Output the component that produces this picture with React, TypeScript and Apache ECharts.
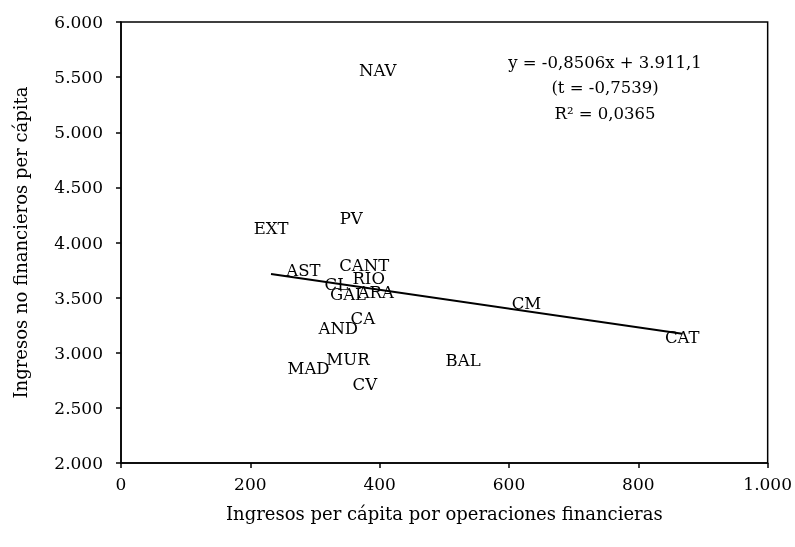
import React, { useEffect, useRef } from "react";
import * as echarts from "echarts";

const regions = ["NAV", "EXT", "PV", "CANT", "AST", "RIO", "CL", "GAL", "ARA", "CA", "AND", "MUR", "MAD", "CV", "BAL", "CM", "CAT"];
const xValues = [397, 232, 356, 376, 282, 383, 333, 351, 394, 374, 336, 351, 290, 377, 529, 627, 868];
const yValues = [5557, 4127, 4217, 3792, 3747, 3674, 3620, 3529, 3547, 3312, 3222, 2941, 2860, 2715, 2932, 3448, 3140];
const trendSlope = -0.8506;
const trendIntercept = 3911.1;
const equationLines = ["y = -0,8506x + 3.911,1", "(t = -0,7539)", "R² = 0,0365"];

const fmt = (v: number) => {
  const s = Math.round(v).toString();
  return s.replace(/\B(?=(\d{3})+(?!\d))/g, ".");
};

const FONT = "DejaVu Serif";

export default function App() {
  const ref = useRef<HTMLDivElement>(null);
  useEffect(() => {
    if (!ref.current) return;
    const chart = echarts.init(ref.current, null, { renderer: "svg" });
    const xmin = Math.min(...xValues);
    const xmax = Math.max(...xValues);
    const trend = [
      [xmin, trendSlope * xmin + trendIntercept],
      [xmax, trendSlope * xmax + trendIntercept],
    ];
    chart.setOption({
      animation: false,
      textStyle: { fontFamily: FONT },
      grid: { left: 121, right: 22, top: 22, bottom: 84, show: true, borderColor: "#000", borderWidth: 1.5 },
      xAxis: {
        type: "value",
        min: 0,
        max: 1000,
        interval: 200,
        name: "Ingresos per cápita por operaciones financieras",
        nameLocation: "middle",
        nameGap: 41,
        nameTextStyle: { fontFamily: FONT, fontSize: 18, color: "#000" },
        axisLine: { show: true, lineStyle: { color: "#000", width: 1.5 } },
        axisTick: { show: true, inside: false, length: 5, lineStyle: { color: "#000", width: 1.5 } },
        axisLabel: { fontFamily: FONT, fontSize: 17, color: "#000", margin: 12, formatter: (v: number) => fmt(v) },
        splitLine: { show: false },
      },
      yAxis: {
        type: "value",
        min: 2000,
        max: 6000,
        interval: 500,
        name: "Ingresos no financieros per cápita",
        nameLocation: "middle",
        nameGap: 92,
        nameRotate: 90,
        nameTextStyle: { fontFamily: FONT, fontSize: 18, color: "#000" },
        axisLine: { show: true, lineStyle: { color: "#000", width: 1.5 } },
        axisTick: { show: true, inside: false, length: 5, lineStyle: { color: "#000", width: 1.5 } },
        axisLabel: { fontFamily: FONT, fontSize: 17, color: "#000", margin: 18, formatter: (v: number) => fmt(v) },
        splitLine: { show: false },
      },
      series: [
        {
          type: "scatter",
          symbolSize: 2,
          itemStyle: { color: "transparent" },
          data: regions.map((r, i) => ({ name: r, value: [xValues[i], yValues[i]] })),
          label: {
            show: true,
            position: "inside",
            formatter: (p: any) => p.name,
            fontFamily: FONT,
            fontSize: 16.5,
            color: "#000",
            textBorderWidth: 0,
            opacity: 1,
          },
          labelLayout: { hideOverlap: false },
          emphasis: { disabled: true },
          z: 3,
        },
        {
          type: "line",
          data: trend,
          symbol: "none",
          lineStyle: { color: "#000", width: 2 },
          z: 2,
        },
      ],
      graphic: equationLines.map((t, i) => ({
        type: "text",
        x: 605,
        y: 62 + i * 25.5,
        style: {
          text: t,
          fontFamily: FONT,
          fontSize: 16.5,
          fill: "#000",
          align: "center",
          verticalAlign: "middle",
        },
      })),
    });
    return () => chart.dispose();
  }, []);
  return <div ref={ref} style={{ position: "fixed", left: 0, top: 0, width: 795, height: 547 }} />;
}
